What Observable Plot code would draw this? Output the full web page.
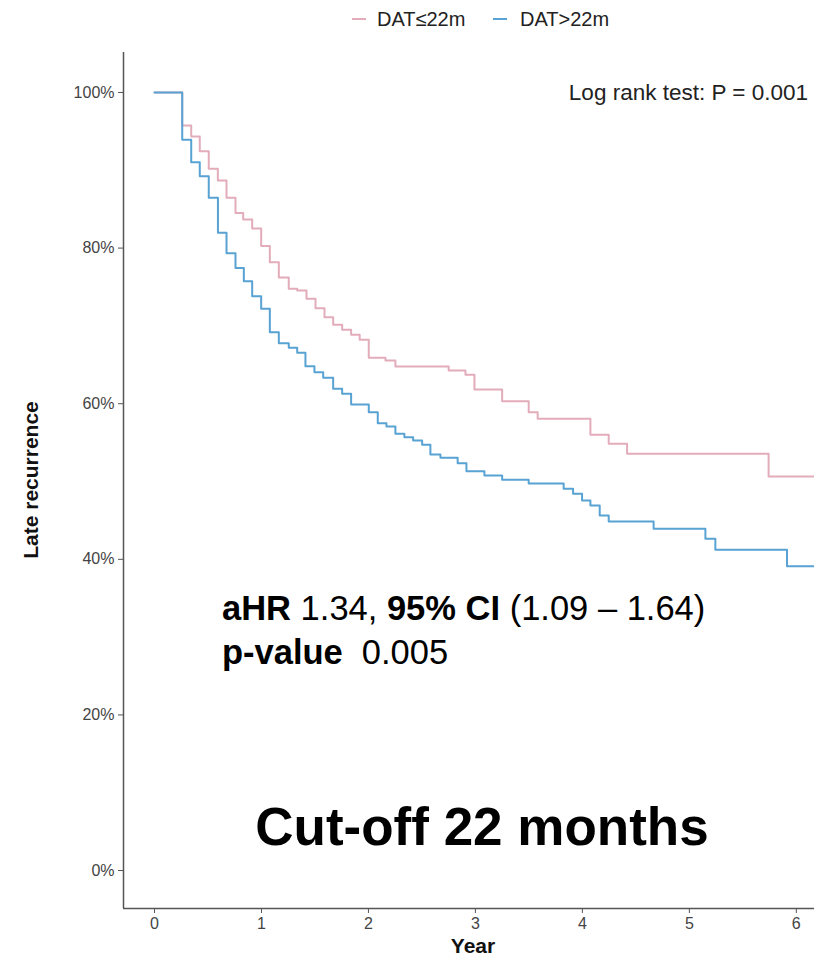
<!DOCTYPE html>
<html><head><meta charset="utf-8">
<script src="https://cdn.jsdelivr.net/npm/d3@7"></script>
<script src="https://cdn.jsdelivr.net/npm/@observablehq/plot@0.6"></script>
<style>
body{margin:0;background:#fff;font-family:"Liberation Sans",Arial,sans-serif;}
#legend{height:40px;position:relative;width:814px;}
.sw{position:absolute;top:18px;width:14px;height:2px;}
.lt{position:absolute;top:7px;font-size:20px;line-height:24px;color:#222;white-space:nowrap;}
g[aria-label="x-axis tick label"] text, g[aria-label="y-axis tick label"] text,
g[aria-label="x-axis tick label"], g[aria-label="y-axis tick label"]{font-size:16px !important;}
</style></head><body>
<div id="legend"></div><div id="chart"></div>
<script>
const groups = ["DAT≤22m", "DAT>22m"];
const colors = ["#e3acbb", "#58a3d3"];
const xTicks = [0, 1, 2, 3, 4, 5, 6];
const yTicks = [0, 20, 40, 60, 80, 100];

const pinkTime = [0, 0.259, 0.343, 0.423, 0.507, 0.592, 0.673, 0.757, 0.829, 0.913, 0.997, 1.078, 1.162, 1.255, 1.334, 1.421, 1.505, 1.589, 1.670, 1.754, 1.838, 1.918, 2.003, 2.159, 2.252, 2.750, 2.907, 2.991, 3.250, 3.498, 3.582, 4.075, 4.246, 4.418, 5.741, 6.25];
const pinkSurv = [100, 95.76, 94.34, 92.46, 90.19, 88.69, 86.47, 84.51, 83.68, 82.52, 80.27, 78.19, 76.22, 74.77, 74.55, 73.48, 72.28, 71.12, 70.14, 69.50, 68.86, 68.21, 65.90, 65.55, 64.78, 64.27, 63.71, 61.83, 60.32, 58.91, 58.06, 56.00, 54.85, 53.56, 50.64, 50.64];

const blueTime = [0, 0.259, 0.343, 0.423, 0.507, 0.593, 0.673, 0.757, 0.835, 0.913, 0.997, 1.078, 1.162, 1.255, 1.334, 1.411, 1.495, 1.577, 1.670, 1.754, 1.838, 2.003, 2.087, 2.168, 2.252, 2.336, 2.418, 2.502, 2.579, 2.673, 2.834, 2.916, 3.084, 3.250, 3.498, 3.825, 3.913, 3.997, 4.075, 4.162, 4.246, 4.666, 5.150, 5.243, 5.913, 6.25];
const blueSurv = [100, 93.92, 91.04, 89.24, 86.47, 81.97, 79.34, 77.44, 75.75, 73.82, 72.20, 69.19, 67.78, 67.18, 66.54, 64.82, 64.05, 63.33, 61.91, 61.27, 59.90, 58.91, 57.49, 57.07, 56.13, 55.69, 55.27, 54.72, 53.47, 53.05, 52.35, 51.32, 50.77, 50.22, 49.74, 49.06, 48.42, 47.56, 46.92, 45.63, 44.86, 43.92, 42.63, 41.22, 39.11, 39.11];

const data = [
  ...pinkTime.map((t, i) => ({t, s: pinkSurv[i], g: groups[0]})),
  ...blueTime.map((t, i) => ({t, s: blueSurv[i], g: groups[1]}))
];

// legend
const leg = document.getElementById("legend");
const legPos = [[352, 377], [493, 520]];
groups.forEach((g, i) => {
  const sw = document.createElement("div");
  sw.className = "sw"; sw.style.left = legPos[i][0] + "px"; sw.style.background = colors[i];
  leg.appendChild(sw);
  const t = document.createElement("div");
  t.className = "lt"; t.style.left = legPos[i][1] + "px"; t.textContent = g;
  leg.appendChild(t);
});

const xDomain = [-0.29, 6.17];
const yDomain = [-4.88, 105.14];
const axisColor = "#555";

const plot = Plot.plot({
  width: 814, height: 920,
  marginLeft: 123, marginRight: 0, marginTop: 12, marginBottom: 52,
  style: {fontFamily: "Liberation Sans, Arial, sans-serif", fontSize: "16px", background: "#fff"},
  x: {domain: xDomain},
  y: {domain: yDomain},
  color: {domain: groups, range: colors},
  marks: [
    Plot.line(data, {x: "t", y: "s", z: "g", stroke: "g", curve: "step-after", strokeWidth: 2, clip: true}),
    Plot.axisX({ticks: xTicks, tickSize: 5, tickPadding: 4, label: null, tickFormat: d => String(d), color: "#444", stroke: axisColor}),
    Plot.axisY({ticks: yTicks, tickSize: 5, tickPadding: 4, label: null, tickFormat: d => d + "%", color: "#444", stroke: axisColor}),
    Plot.ruleX([xDomain[0]], {stroke: axisColor, strokeWidth: 1.5}),
    Plot.ruleY([yDomain[0]], {stroke: axisColor, strokeWidth: 1.5})
  ]
});
document.getElementById("chart").appendChild(plot);

const svg = d3.select(plot);
const ann = svg.append("g").attr("font-family", "Liberation Sans, Arial, sans-serif")
  .attr("fill", "#000").attr("text-anchor", "start").style("text-anchor", "start");
// axis titles
ann.append("text").attr("x", 473).attr("y", 913).attr("text-anchor", "middle").style("text-anchor", "middle")
  .attr("font-size", 21).attr("font-weight", "bold").attr("fill", "#111").text("Year");
ann.append("text").attr("transform", "translate(38,440) rotate(-90)").attr("text-anchor", "middle").style("text-anchor", "middle")
  .attr("font-size", 21).attr("font-weight", "bold").attr("fill", "#111").text("Late recurrence");
// log rank
ann.append("text").attr("x", 808).attr("y", 60).attr("text-anchor", "end").style("text-anchor", "end")
  .attr("font-size", 22.5).attr("fill", "#222").text("Log rank test: P = 0.001");
// aHR line
const l1 = ann.append("text").attr("x", 222).attr("y", 580).attr("font-size", 34.5).style("text-anchor", "start");
l1.append("tspan").attr("font-weight", "bold").text("aHR");
l1.append("tspan").text(" 1.34, ");
l1.append("tspan").attr("font-weight", "bold").text("95% CI");
l1.append("tspan").text(" (1.09 \u2013 1.64)");
const l2 = ann.append("text").attr("x", 222).attr("y", 624).attr("font-size", 34.5).style("text-anchor", "start");
l2.append("tspan").attr("font-weight", "bold").text("p-value");
l2.append("tspan").attr("dx", 19).text("0.005");
ann.append("text").attr("x", 482).attr("y", 805).attr("text-anchor", "middle").style("text-anchor", "middle")
  .attr("font-size", 53).attr("font-weight", "bold").text("Cut-off 22 months");
</script>
</body></html>
